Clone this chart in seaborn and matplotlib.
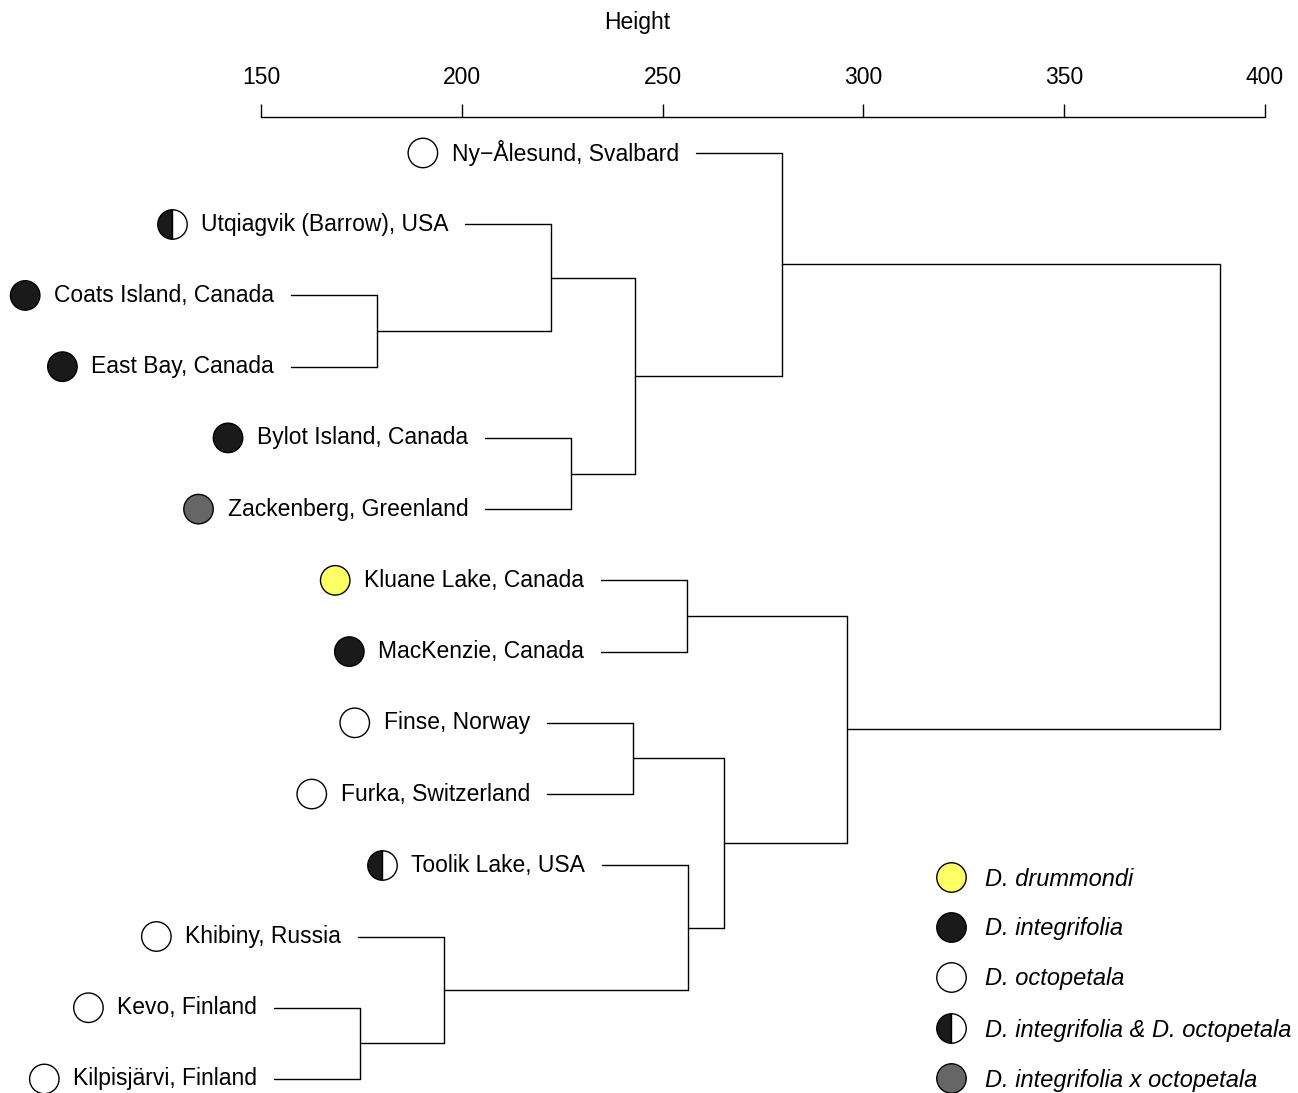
import matplotlib
matplotlib.use("Agg")
import matplotlib.pyplot as plt
import seaborn as sns
import pandas as pd

# leaves, top to bottom, with their species group
leaves = ["Ny−Ålesund, Svalbard", "Utqiagvik (Barrow), USA", "Coats Island, Canada",
          "East Bay, Canada", "Bylot Island, Canada", "Zackenberg, Greenland",
          "Kluane Lake, Canada", "MacKenzie, Canada", "Finse, Norway",
          "Furka, Switzerland", "Toolik Lake, USA", "Khibiny, Russia",
          "Kevo, Finland", "Kilpisjärvi, Finland"]
species = ["oct", "mix", "int", "int", "int", "hyb", "dru", "int", "oct", "oct",
           "mix", "oct", "oct", "oct"]

# merges: children are leaf names or indices of earlier merges
merge_a = ["Coats Island, Canada", "Utqiagvik (Barrow), USA", "Bylot Island, Canada", 1,
           "Ny−Ålesund, Svalbard", "Kluane Lake, Canada", "Finse, Norway",
           "Kevo, Finland", "Khibiny, Russia", "Toolik Lake, USA", 6, 5, 4]
merge_b = ["East Bay, Canada", 0, "Zackenberg, Greenland", 2, 3, "MacKenzie, Canada",
           "Furka, Switzerland", "Kilpisjärvi, Finland", 7, 8, 9, 10, 11]
merge_h = [178.9, 222.2, 227.2, 243.1, 279.7, 256.1, 242.6, 174.7, 195.6, 256.3,
           265.3, 295.9, 388.8]
hang = 21.4

legend_keys = ["dru", "int", "oct", "mix", "hyb"]
legend_labels = ["D. drummondi", "D. integrifolia", "D. octopetala",
                 "D. integrifolia & D. octopetala", "D. integrifolia x octopetala"]
colors = {"dru": "#ffff66", "int": "#1a1a1a", "oct": "white", "hyb": "#666666"}

sns.set_style("white")
plt.rcParams["font.family"] = ["Liberation Sans", "DejaVu Sans"]
plt.rcParams["text.color"] = "black"

W, H = 1298, 1093
fig = plt.figure(figsize=(W / 100, H / 100), dpi=100)
ax = fig.add_axes([261 / W, 0, 1004 / W, 976 / H])
ax.set_xlim(150, 400)
ax.set_ylim(13.197, -0.505)

# walk the tree
pos = {name: (None, i) for i, name in enumerate(leaves)}  # (height, y)
node_pos = []
leaf_x = {}
lc = "black"
lw = 1.0


def child(c):
    if isinstance(c, int):
        return node_pos[c]
    return pos[c]


for a, b, h in zip(merge_a, merge_b, merge_h):
    ys = []
    for c in (a, b):
        ch, cy = child(c)
        if ch is None:
            ch = h - hang
            leaf_x[c] = ch
        ax.plot([ch, h], [cy, cy], color=lc, lw=lw)
        ys.append(cy)
    ax.plot([h, h], [ys[0], ys[1]], color=lc, lw=lw)
    node_pos.append((h, sum(ys) / 2))

# labels
texts = []
for i, name in enumerate(leaves):
    t = ax.annotate(name, (leaf_x[name], i), xytext=(-12.2, 0), textcoords="offset points",
                    ha="right", va="center", fontsize=16.5, color="black",
                    annotation_clip=False)
    texts.append(t)

fig.canvas.draw()
r = fig.canvas.get_renderer()
inv = ax.transData.inverted()
mk = []
for i, t in enumerate(texts):
    bb = t.get_window_extent(r)
    xd, _ = inv.transform((bb.x0 - 29, 0))
    mk.append(xd)

df = pd.DataFrame({"x": mk, "y": range(len(leaves)), "sp": species})
full = df[df["sp"] != "mix"]
sns.scatterplot(data=full, x="x", y="y", hue="sp", palette=colors, s=450,
                edgecolor="black", linewidth=1.0, legend=False, ax=ax, clip_on=False, zorder=3)
for _, row in df[df["sp"] == "mix"].iterrows():
    ax.plot(row["x"], row["y"], marker="o", markersize=21.2, fillstyle="left",
            markerfacecolor="#1a1a1a", markerfacecoloralt="white",
            markeredgecolor="black", markeredgewidth=1.0, clip_on=False, zorder=3)

# axis styling
ax.xaxis.tick_top()
ax.set_xticks([150, 200, 250, 300, 350, 400])
ax.tick_params(axis="x", direction="out", length=9.4, width=1.0, pad=11,
               labelsize=16.5, colors="black")
ax.set_yticks([])
for s in ["left", "right", "bottom"]:
    ax.spines[s].set_visible(False)
ax.spines["top"].set_bounds(150, 400)
ax.spines["top"].set_color("black")
ax.spines["top"].set_linewidth(1.0)
ax.set_xlabel("")
ax.set_ylabel("")
fig.text(637 / W, 1 - 22 / H, "Height", ha="center", va="center", fontsize=16.5)

# legend in pixel coords
lax = fig.add_axes([0, 0, 1, 1])
lax.set_xlim(0, W)
lax.set_ylim(H, 0)
lax.axis("off")
leg_y = [877, 927, 977, 1028, 1078]
for k, lab, y in zip(legend_keys, legend_labels, leg_y):
    if k == "mix":
        lax.plot(951, y, marker="o", markersize=21.2, fillstyle="left",
                 markerfacecolor="#1a1a1a", markerfacecoloralt="white",
                 markeredgecolor="black", markeredgewidth=1.0, clip_on=False)
    else:
        lax.scatter([951], [y], s=450, color=colors[k], edgecolor="black",
                    linewidth=1.0, clip_on=False)
    lax.text(985, y + 2, lab, ha="left", va="center", fontsize=17, style="italic")

fig.savefig("out.png", dpi=100)
